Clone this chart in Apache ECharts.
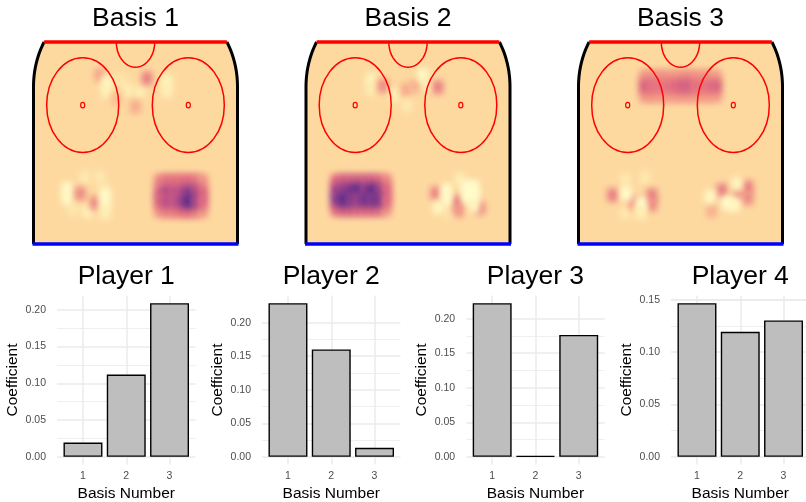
<!DOCTYPE html>
<html>
<head>
<meta charset="utf-8">
<script src="https://cdn.jsdelivr.net/npm/echarts@6/dist/echarts.min.js"></script>
<style>
  html, body { margin: 0; padding: 0; background: #fff; }
  #chart { width: 806px; height: 502px; }
</style>
</head>
<body>
<div id="chart"></div>
<script>
// ---- data ----
const basisTitles = ['Basis 1', 'Basis 2', 'Basis 3'];
// heat cells: [x (ft from centre), y (ft below goal line), value]
const basis1 = [
  [-14.8, 10.5, 0.25], [-6, 12, -0.25], [-12, 12.5, -0.7], [-12, 15.5, -0.6], [-3.1, 15.2, -0.45],
  [1.9, 15.8, -0.45], [4.8, 11.5, 0.4], [13.1, 12.5, -0.65], [13.1, 15.5, -0.5], [0, 20.5, 0.2], [-8, 18, 0.12],
  [-21, 43, -0.35], [-14.8, 43, -0.35], [-26, 53, -0.3], [-20, 53.5, -0.55],
  [-28.5, 46.5, -0.85], [-28.5, 49.5, -0.8], [-23, 48, 0.35], [-16.9, 51, 0.35],
  [-12.7, 48, -0.85], [-12.7, 51, -0.85], [-12.7, 54, -0.5],
  [10, 44, 0.38], [13, 44, 0.48], [16, 44, 0.48], [19, 44, 0.48], [22, 44, 0.52], [25, 44, 0.48], [28, 44, 0.32],
  [10, 53.5, 0.32], [13, 53.5, 0.42], [16, 53.5, 0.4], [19, 53.5, 0.48], [22, 53.5, 0.52], [25, 53.5, 0.45], [28, 53.5, 0.3],
  [10, 47.5, 0.55], [13, 47.5, 0.74], [16, 47.5, 0.65], [19, 47.5, 0.7], [22, 47.5, 0.84], [25, 47.5, 0.76], [28, 47.5, 0.52],
  [10, 50.5, 0.55], [13, 50.5, 0.7], [16, 50.5, 0.64], [19, 50.5, 0.78], [22, 50.5, 0.96], [25, 50.5, 0.8], [28, 50.5, 0.52]
];
const basis2 = [
  [-15.4, 12, -0.6], [-15.4, 15, -0.4], [-10.4, 13.9, 0.35], [-5.4, 16.8, -0.55], [-0.8, 15.2, 0.2], [3, 14, 0.18],
  [6.25, 10.5, -0.85], [8, 13.5, -0.5], [12.5, 14.3, 0.4], [-0.4, 20, -0.35],
  [-30, 44, 0.5], [-27, 44, 0.58], [-24, 44, 0.58], [-21, 44, 0.6], [-18, 44, 0.58], [-15, 44, 0.6], [-12, 44, 0.55], [-9, 44, 0.38],
  [-30, 53, 0.5], [-27, 53, 0.58], [-24, 53, 0.58], [-21, 53, 0.55], [-18, 53, 0.55], [-15, 53, 0.55], [-12, 53, 0.55], [-9, 53, 0.32],
  [-30, 47, 0.78], [-27, 47, 0.8], [-24, 47, 0.86], [-21, 47, 0.95], [-18, 47, 0.8], [-15, 47, 0.95], [-12, 47, 0.82], [-9, 47, 0.52],
  [-30, 50, 0.82], [-27, 50, 0.95], [-24, 50, 0.86], [-21, 50, 0.8], [-18, 50, 0.9], [-15, 50, 0.86], [-12, 50, 0.9], [-9, 50, 0.52],
  [21.7, 43.5, -0.45], [18, 54, -0.35], [11.5, 48, 0.38], [20.4, 50.7, 0.42], [21, 53.5, 0.3], [30, 52.6, 0.35],
  [16, 47, -0.9], [16, 50, -0.85], [12.5, 52.5, -0.7],
  [24.5, 46, -0.95], [27.5, 46, -0.9], [24.5, 49, -0.9], [27.5, 49, -0.95], [27.5, 52, -0.7]
];
const basis3 = [
  [-15, 11, 0.3], [-12, 11, 0.32], [-9, 11, 0.32], [-6, 11, 0.3], [-3, 11, 0.3], [0, 11, 0.32],
  [3, 11, 0.35], [6, 11, 0.32], [9, 11, 0.3], [12, 11, 0.3], [15, 11, 0.28],
  [-15, 17, 0.3], [-12, 17, 0.3], [-9, 17, 0.28], [-6, 17, 0.28], [-3, 17, 0.28], [0, 17, 0.3],
  [3, 17, 0.3], [6, 17, 0.28], [9, 17, 0.28], [12, 17, 0.28], [15, 17, 0.28],
  [-15, 14, 0.56], [-12, 14, 0.48], [-9, 14, 0.46], [-6, 14, 0.46], [-3, 14, 0.5], [0, 14, 0.56],
  [3, 14, 0.58], [6, 14, 0.48], [9, 14, 0.46], [12, 14, 0.48], [15, 14, 0.55],
  [-23, 43.5, -0.35], [-14.8, 43, -0.35], [-23, 54, -0.35],
  [-28.3, 48.5, 0.4], [-19.4, 51, 0.28], [-11.9, 48.5, 0.4], [-11.9, 51.5, 0.35],
  [-22.7, 48, -0.95], [-16.5, 51.3, -0.95], [-16.5, 54, -0.5],
  [13, 53.5, 0.18], [17.3, 47, 0.4], [24, 48, 0.3], [28.1, 46, 0.4], [28.1, 49.5, 0.35],
  [12.2, 49, -0.75], [19.4, 51, -0.95], [22.5, 51.5, -0.8], [23.5, 45, -0.7]
];
const basisData = [basis1, basis2, basis3];

const playerTitles = ['Player 1', 'Player 2', 'Player 3', 'Player 4'];
const basisNumbers = ['1', '2', '3'];
const player1 = [0.0195, 0.112, 0.209];
const player2 = [0.229, 0.160, 0.0135];
const player3 = [0.2225, 0.0012, 0.1765];
const player4 = [0.1468, 0.1195, 0.1303];
const playerData = [player1, player2, player3, player4];

// ---- layout / style ----
const FONT = 'Liberation Sans, Arial, Helvetica, sans-serif';
const PEACH = '#FDD9A0';
const RINK_CENTERS = [135.5, 408, 680.5];
const RINK_W = 204, RINK_TOP = 42, RINK_H = 202;
const RINK = { halfWidth: 42.5, blueLine: 64, cornerR: 25, cornerCy: 14.2,
  circleX: 22, circleY: 20, circleR: 15, creaseR: 8, dotR: 0.85 };
const CELL = [4.4, 4.2];
const BLUR = 6, SHIFT = 3000;

const PANEL_LEFT = [57, 262, 466.2, 671];
const PANEL_W = 138.5, PANEL_TOP = 295.5, PANEL_H = 169;

function boardPoints(side) {
  const pts = [];
  const cx = side * (RINK.halfWidth - RINK.cornerR);
  const a0 = Math.asin(RINK.cornerCy / RINK.cornerR);
  for (let k = 0; k <= 16; k++) {
    const a = a0 * (1 - k / 16);
    pts.push([cx + side * RINK.cornerR * Math.cos(a), RINK.cornerCy - RINK.cornerR * Math.sin(a)]);
  }
  pts.push([side * RINK.halfWidth, RINK.blueLine]);
  return pts;
}

function rinkFill(params, api) {
  const pts = boardPoints(-1).reverse().concat(boardPoints(1)).map(p => api.coord(p));
  return { type: 'polygon', shape: { points: pts }, style: { fill: PEACH, stroke: 'none' } };
}

// blurred cell: the rect sits off to the side, only its shadow lands on the rink
function renderCell(params, api) {
  const p = api.coord([api.value(0), api.value(1)]);
  const s = api.size([CELL[0], CELL[1]]);
  const color = api.visual('color');
  return {
    type: 'rect',
    shape: { x: p[0] - s[0] / 2 - SHIFT, y: p[1] - s[1] / 2, width: s[0], height: s[1] },
    style: { fill: color, shadowBlur: BLUR, shadowColor: color, shadowOffsetX: SHIFT }
  };
}

function rinkLines(params, api) {
  const left = boardPoints(-1).map(p => api.coord(p));
  const right = boardPoints(1).map(p => api.coord(p));
  const crease = [];
  for (let k = 0; k <= 24; k++) {
    const a = Math.PI * k / 24;
    crease.push(api.coord([RINK.creaseR * Math.cos(a), RINK.creaseR * Math.sin(a)]));
  }
  const r = api.size([RINK.circleR, RINK.circleR]);
  const d = api.size([RINK.dotR, RINK.dotR]);
  const children = [
    { type: 'polyline', shape: { points: crease }, style: { fill: 'none', stroke: '#FF0000', lineWidth: 1.5 } }
  ];
  [-1, 1].forEach(side => {
    const c = api.coord([side * RINK.circleX, RINK.circleY]);
    children.push({ type: 'ellipse', shape: { cx: c[0], cy: c[1], rx: r[0], ry: r[1] },
      style: { fill: 'none', stroke: '#FF0000', lineWidth: 1.5 } });
    children.push({ type: 'ellipse', shape: { cx: c[0], cy: c[1], rx: d[0], ry: d[1] },
      style: { fill: 'none', stroke: '#FF0000', lineWidth: 1.2 } });
  });
  children.push({ type: 'polyline', shape: { points: left }, style: { fill: 'none', stroke: '#000', lineWidth: 3 } });
  children.push({ type: 'polyline', shape: { points: right }, style: { fill: 'none', stroke: '#000', lineWidth: 3 } });
  children.push({ type: 'line', shape: { x1: left[0][0], y1: left[0][1], x2: right[0][0], y2: right[0][1] },
    style: { stroke: '#FF0000', lineWidth: 3.5 } });
  const b1 = api.coord([-RINK.halfWidth, RINK.blueLine]), b2 = api.coord([RINK.halfWidth, RINK.blueLine]);
  children.push({ type: 'line', shape: { x1: b1[0] - 1, y1: b1[1], x2: b2[0] + 1, y2: b2[1] },
    style: { stroke: '#0000FF', lineWidth: 3.5 } });
  return { type: 'group', children: children };
}

const grids = [], xAxes = [], yAxes = [], series = [], titles = [], blobSeries = [];
const titleStyle = { fontSize: 26.5, fontWeight: 'normal', color: '#000', fontFamily: FONT };

RINK_CENTERS.forEach((c, i) => {
  grids.push({ left: c - RINK_W / 2, top: RINK_TOP, width: RINK_W, height: RINK_H, outerBoundsMode: 'none' });
  xAxes.push({ gridIndex: i, type: 'value', min: -RINK.halfWidth, max: RINK.halfWidth, show: false });
  yAxes.push({ gridIndex: i, type: 'value', min: 0, max: RINK.blueLine, inverse: true, show: false });
  titles.push({ text: basisTitles[i], left: c, top: 5, textAlign: 'center', padding: 0, textStyle: titleStyle });
  series.push({ type: 'custom', xAxisIndex: i, yAxisIndex: i, z: 1, silent: true, data: [[0, 0]], renderItem: rinkFill });
  blobSeries.push(series.length);
  series.push({ type: 'custom', xAxisIndex: i, yAxisIndex: i, z: 2, silent: true, data: basisData[i], renderItem: renderCell });
  series.push({ type: 'custom', xAxisIndex: i, yAxisIndex: i, z: 3, silent: true, data: [[0, 0]], renderItem: rinkLines });
});

const labelStyle = { color: '#4D4D4D', fontSize: 10.5, fontFamily: FONT };
const nameStyle = { color: '#000', fontSize: 15.5, fontFamily: FONT };
const gridLine = '#EBEBEB';

playerData.forEach((vals, i) => {
  const unit = PANEL_W / 3.2;
  const max = Math.max.apply(null, vals);
  const k = PANEL_H / (1.1 * max);
  const zeroY = PANEL_TOP + PANEL_H * 1.05 / 1.1;
  const topMajor = Math.floor(max * 1.05 / 0.05 + 1e-9) * 0.05;
  const gA = grids.length, gB = gA + 1;
  // panel A: vertical grid lines, x labels, axis names
  grids.push({ left: PANEL_LEFT[i] - 0.4 * unit, width: 4 * unit, top: PANEL_TOP, height: PANEL_H, outerBoundsMode: 'none' });
  xAxes.push({ gridIndex: gA, type: 'value', min: 0, max: 4, interval: 1,
    axisLine: { show: false }, axisTick: { show: false },
    axisLabel: Object.assign({ margin: 6, formatter: v => (v >= 1 && v <= 3) ? basisNumbers[v - 1] : '' }, labelStyle),
    splitLine: { show: true, lineStyle: { color: ['rgba(0,0,0,0)', gridLine, gridLine, gridLine, 'rgba(0,0,0,0)'], width: 1.5 } },
    name: 'Basis Number', nameLocation: 'middle', nameGap: 21, nameMoveOverlap: false, nameTextStyle: nameStyle });
  yAxes.push({ gridIndex: gA, type: 'value', min: 0, max: 1,
    axisLine: { show: false }, axisTick: { show: false }, axisLabel: { show: false }, splitLine: { show: false },
    name: 'Coefficient', nameLocation: 'middle', nameGap: 19, nameMoveOverlap: false, nameTextStyle: nameStyle });
  // panel B: value scale, horizontal grid lines, bars
  grids.push({ left: PANEL_LEFT[i], width: PANEL_W, top: zeroY - topMajor * k, height: topMajor * k, outerBoundsMode: 'none' });
  xAxes.push({ gridIndex: gB, type: 'value', min: 0.4, max: 3.6, show: false });
  yAxes.push({ gridIndex: gB, type: 'value', min: 0, max: topMajor, interval: 0.05,
    axisLine: { show: false }, axisTick: { show: false },
    axisLabel: Object.assign({ margin: 11, formatter: v => v.toFixed(2) }, labelStyle),
    splitLine: { show: true, lineStyle: { color: gridLine, width: 1.5 } },
    minorTick: { show: false, splitNumber: 2 },
    minorSplitLine: { show: true, lineStyle: { color: gridLine, width: 0.8 } } });
  titles.push({ text: playerTitles[i], left: PANEL_LEFT[i] + PANEL_W / 2, top: 263, textAlign: 'center', padding: 0, textStyle: titleStyle });
  series.push({ type: 'bar', xAxisIndex: gB, yAxisIndex: gB, clip: false, silent: true,
    barWidth: 0.9 * unit,
    data: vals.map((v, j) => [Number(basisNumbers[j]), v]),
    itemStyle: { color: '#BEBEBE', borderColor: '#000', borderWidth: 1.4 } });
});

const chart = echarts.init(document.getElementById('chart'), null, { renderer: 'canvas' });
chart.setOption({
  animation: false,
  backgroundColor: '#fff',
  textStyle: { fontFamily: FONT },
  title: titles,
  grid: grids,
  xAxis: xAxes,
  yAxis: yAxes,
  visualMap: {
    type: 'continuous', show: false, dimension: 2, min: -1, max: 1, seriesIndex: blobSeries,
    inRange: { color: ['#FFFFD2', '#FFF9C4', '#FEF0B6', '#FEE5AA', PEACH, '#F4A088', '#E2687E', '#AE448A', '#42208C'] }
  },
  series: series
});
</script>
</body>
</html>
